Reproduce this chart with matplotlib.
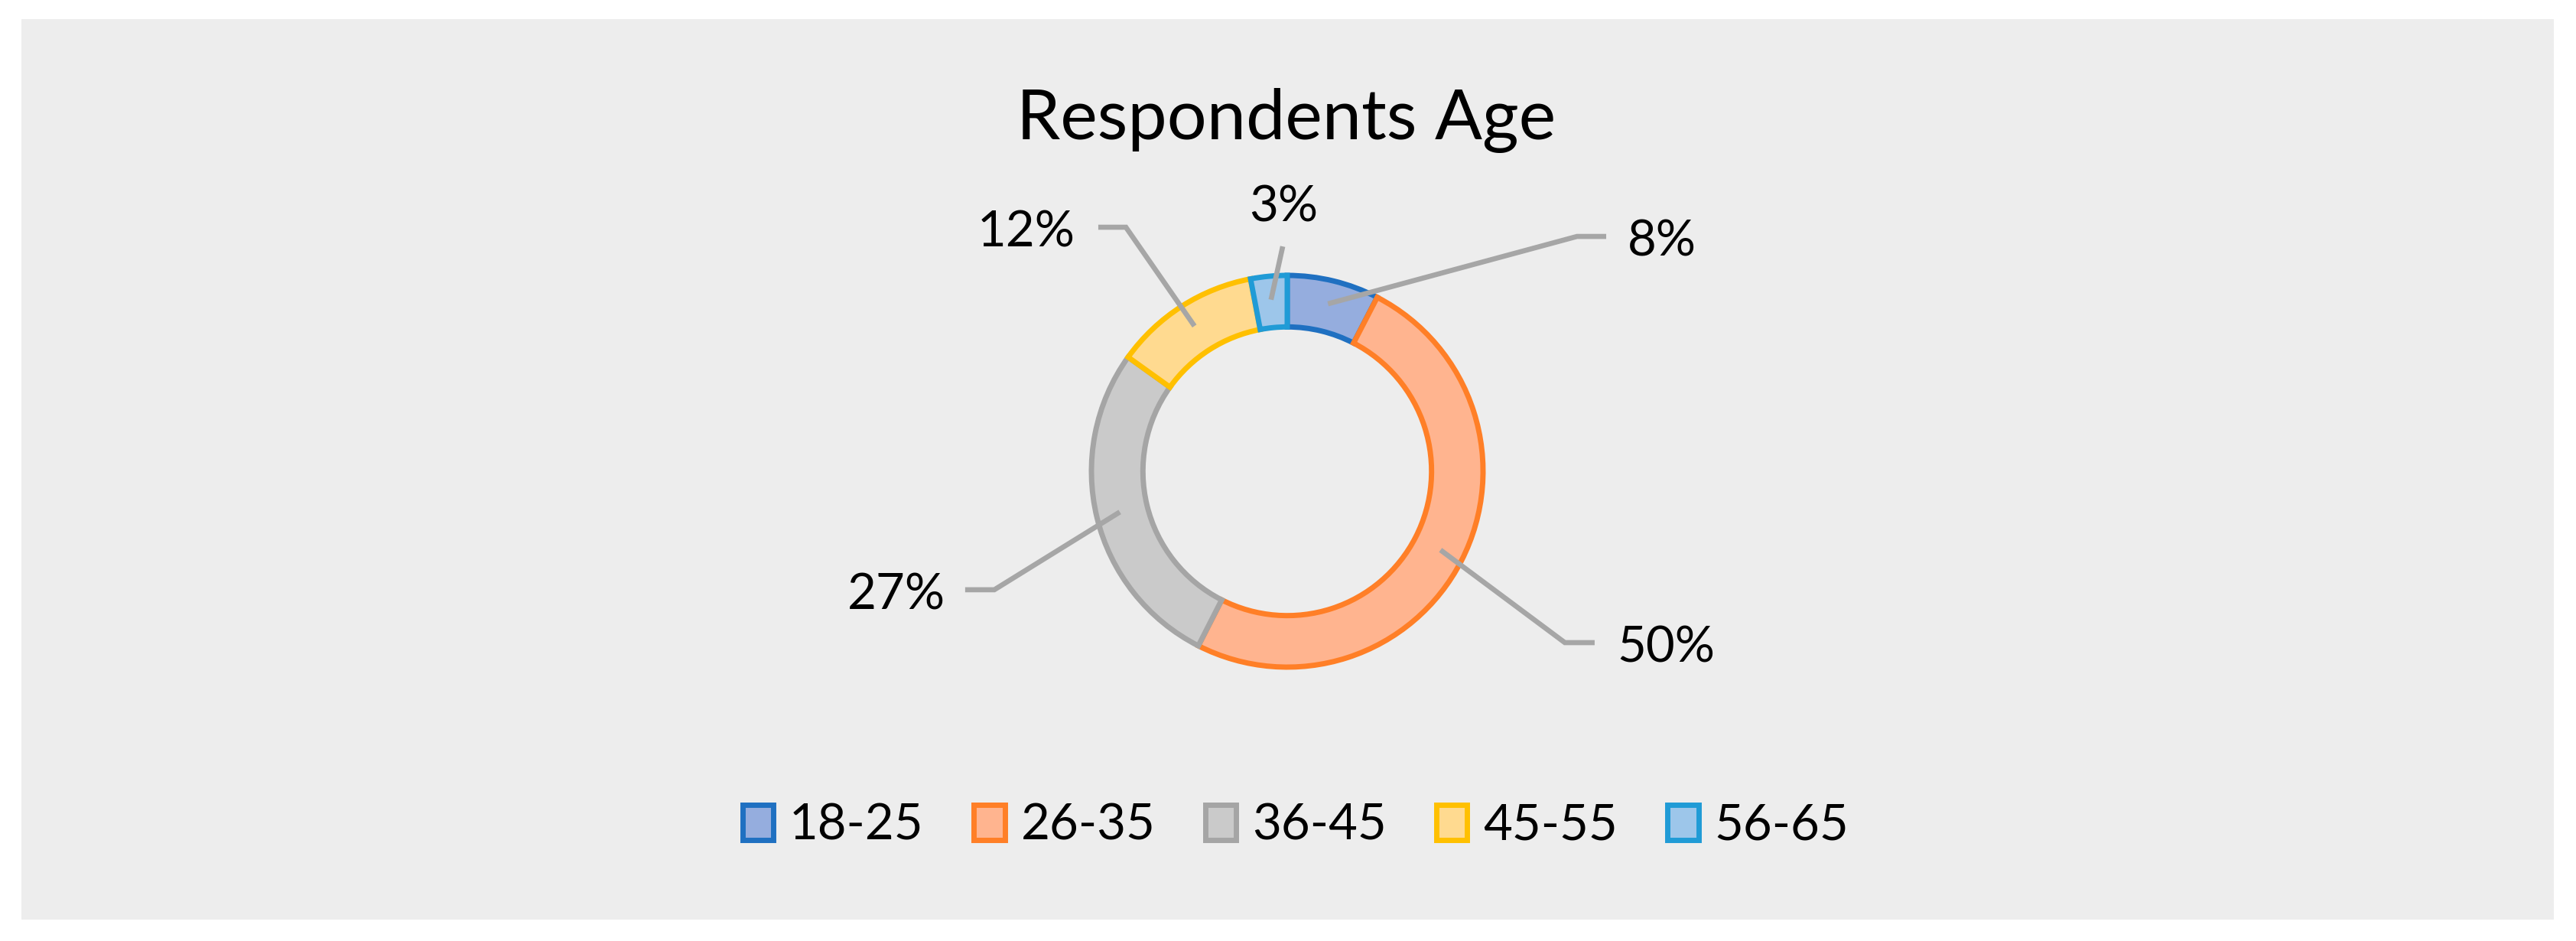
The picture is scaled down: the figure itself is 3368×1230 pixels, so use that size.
import numpy as np
import matplotlib
matplotlib.use("Agg")
import matplotlib.pyplot as plt
from matplotlib.patches import Rectangle, Patch

plt.rcParams['font.family'] = ['Lato', 'DejaVu Sans']

# data
categories = ["18-25", "26-35", "36-45", "45-55", "56-65"]
values = [7.6, 49.9, 27.4, 12.1, 3.0]
pct_labels = ["8%", "50%", "27%", "12%", "3%"]

fill_colors = ["#95ADDE", "#FFB48F", "#CACACA", "#FFDA90", "#9DC6EA"]
edge_colors = ["#1F70C1", "#FF7F27", "#A5A5A5", "#FFC000", "#209BD6"]

# label layout (units of outer radius, relative to donut centre)
label_x = [1.738, 1.684, -1.746, -1.082, -0.02]
label_y = [1.098, -0.973, -0.707, 1.145, 1.277]
label_ha = ["left", "left", "right", "right", "center"]
elbow_x = [1.480, 1.418, -1.496, -0.824, -0.023]
elbow_y = [1.199, -0.875, -0.605, 1.246, 1.148]
end_x = [1.629, 1.570, -1.645, -0.965, -0.023]

W, H = 3368, 1230
cx, cy, R = 1683, 616, 256

fig = plt.figure(figsize=(W / 100, H / 100), dpi=100)
fig.patch.set_facecolor("white")
fig.patches.append(Rectangle((28 / W, 28 / H), 3311 / W, 1177 / H,
                             transform=fig.transFigure, facecolor="#EDEDED",
                             edgecolor="none", zorder=-5))

ax = fig.add_axes([0, 0, 1, 1], zorder=2)
ax.patch.set_visible(False)

wedges, _ = ax.pie(values, radius=1, startangle=90, counterclock=False,
                   colors=fill_colors, center=(0, 0),
                   wedgeprops=dict(width=0.263, linewidth=5))
for w, ec in zip(wedges, edge_colors):
    w.set_edgecolor(ec)
ax.set_aspect("auto")
ax.set_xlim(-cx / R, (W - cx) / R)
ax.set_ylim(-(H - cy) / R, cy / R)
ax.axis("off")

# leader lines and percentage labels
for i, w in enumerate(wedges):
    mid = np.deg2rad((w.theta1 + w.theta2) / 2)
    sx, sy = 0.88 * np.cos(mid), 0.88 * np.sin(mid)
    ax.plot([sx, elbow_x[i], end_x[i]], [sy, elbow_y[i], elbow_y[i]],
            color="#A6A6A6", lw=4.8, solid_capstyle="butt",
            solid_joinstyle="miter", zorder=5)
    ax.text(label_x[i], label_y[i], pct_labels[i], fontsize=47,
            ha=label_ha[i], va="baseline", color="black", zorder=6)

fig.text(0.4994, 1 - 182 / H, "Respondents Age", fontsize=66,
         ha="center", va="baseline", color="black")

handles = [Patch(facecolor=f, edgecolor=e, linewidth=5)
           for f, e in zip(fill_colors, edge_colors)]
fig.legend(handles, categories, loc="center", bbox_to_anchor=(0.503, 1 - 1079 / H),
           ncol=5, frameon=False, fontsize=47, handlelength=0.62,
           handleheight=0.7, handletextpad=0.32, columnspacing=1.0,
           borderpad=0)

fig.savefig("out.png", dpi=100, facecolor="white")
